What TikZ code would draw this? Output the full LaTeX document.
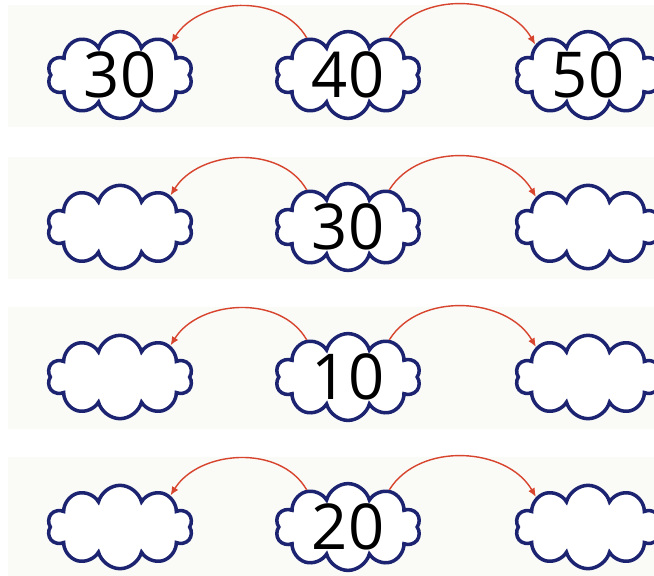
\documentclass[tikz,border=0pt]{standalone}
\usepackage{fontspec}
\setsansfont{Open Sans}
\usetikzlibrary{arrows.meta, shapes.symbols}
\definecolor{cloudblue}{HTML}{1C2370}
\definecolor{jumpred}{HTML}{D8452F}
\definecolor{bandgray}{HTML}{FAFAF7}

\begin{document}
\begin{tikzpicture}[x=0.03cm, y=0.03cm, font=\sffamily, band/.style={fill=bandgray, draw=none}, puff/.style={cloud, cloud puffs=10, cloud ignores aspect, draw=cloudblue, line width=3pt, fill=white, minimum width=4.35cm, minimum height=2.5cm, inner sep=0pt, font=\sffamily\fontsize{54}{54}\selectfont}, jump/.style={-{Latex[length=2.6mm, width=2.2mm]}, draw=jumpred, line width=1.2pt}]
\clip (0,0) rectangle (654,575);
\fill[white] (0,0) rectangle (654,575);
\foreach \y/\k/\mnum/\lnum/\rnum in {500/a/40/30/50, 348/b/30//, 198/c/10//, 48/d/20//}{\fill[band] (8,\y-52) rectangle (654,\y+70);\node[puff] (\k l) at (120,\y) {\lnum};\node[puff] (\k m) at (348,\y) {\mnum};\node[puff] (\k r) at (588,\y) {\rnum};\draw[jump] (\k m.138) to[out=120, in=58] (\k l.32);\draw[jump] (\k m.42) to[out=58, in=120] (\k r.150);}
\end{tikzpicture}
\end{document}
